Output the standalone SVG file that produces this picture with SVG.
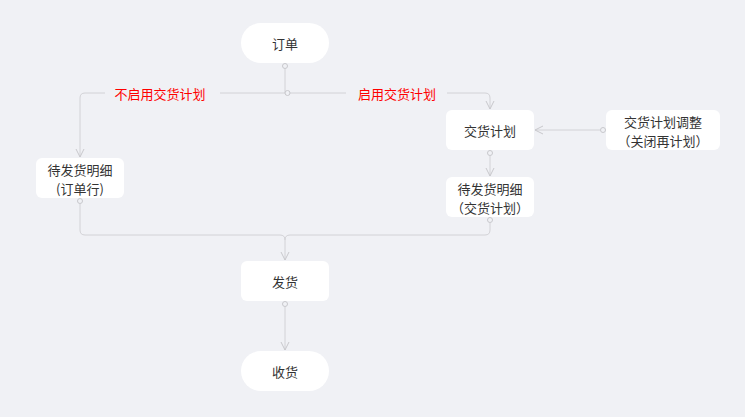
<svg xmlns="http://www.w3.org/2000/svg" width="745" height="417" viewBox="0 0 745 417">
<style>
.node rect{fill:#ffffff}
.t{font-family:"Noto Sans CJK SC","Noto Sans",sans-serif;font-size:13px;fill:#333333;text-anchor:middle;dominant-baseline:central}
.lbl{font-family:"Noto Sans CJK SC","Noto Sans",sans-serif;font-size:13px;fill:#ff0000;text-anchor:middle;dominant-baseline:central}
.edge{fill:none;stroke:#d2d2d6;stroke-width:1}
.port{fill:#f0f1f5;stroke:#c8c8cc;stroke-width:1}
</style>
<defs>
<marker id="arr" viewBox="0 0 10 10" refX="9" refY="5" markerWidth="10" markerHeight="10" markerUnits="userSpaceOnUse" orient="auto">
<path d="M1,1 L9,5 L1,9" fill="none" stroke="#c8c8cc" stroke-width="1"/>
</marker>
</defs>
<rect width="745" height="417" fill="#f0f1f5"/>
<g id="connectors">
<path class="edge" d="M285,69 V93"/>
<path class="edge" d="M285,93 H85 Q80,93 80,98 V157" marker-end="url(#arr)"/>
<path class="edge" d="M285,93 H485 Q490,93 490,98 V109" marker-end="url(#arr)"/>
<path class="edge" d="M600,130 H535" marker-end="url(#arr)"/>
<path class="edge" d="M490,156 V176" marker-end="url(#arr)"/>
<path class="edge" d="M80,204 V230 Q80,235 85,235 H280 Q285,235 285,240 V260" marker-end="url(#arr)"/>
<path class="edge" d="M490,223 V230 Q490,235 485,235 H290 Q285,235 285,240"/>
<path class="edge" d="M285,307 V350" marker-end="url(#arr)"/>
<circle class="port" cx="285" cy="66" r="2.5"/>
<circle class="port" cx="287.5" cy="93" r="2.5"/>
<circle class="port" cx="603" cy="130" r="2.5"/>
<circle class="port" cx="490" cy="153" r="2.5"/>
<circle class="port" cx="80" cy="201" r="2.5"/>
<circle class="port" cx="490" cy="220" r="2.5"/>
<circle class="port" cx="285" cy="304" r="2.5"/>
<rect x="105" y="84" width="115" height="18" fill="#f0f1f5"/>
<text class="lbl" x="160" y="93">不启用交货计划</text>
<rect x="346" y="84" width="101" height="18" fill="#f0f1f5"/>
<text class="lbl" x="397" y="93">启用交货计划</text>
</g>
<g id="node-order" class="node">
<rect x="241" y="23" width="88" height="40" rx="20"/>
<text class="t" x="285" y="43">订单</text>
</g>
<g id="node-plan" class="node">
<rect x="446" y="110" width="88" height="40" rx="6"/>
<text class="t" x="490" y="130">交货计划</text>
</g>
<g id="node-adjust" class="node">
<rect x="606" y="110" width="114" height="40" rx="6"/>
<text class="t" x="663" y="121">交货计划调整</text>
<text class="t" x="663" y="140">（关闭再计划）</text>
</g>
<g id="node-pending-line" class="node">
<rect x="36" y="158" width="88" height="40" rx="6"/>
<text class="t" x="80" y="169">待发货明细</text>
<text class="t" x="80" y="188">(订单行)</text>
</g>
<g id="node-pending-plan" class="node">
<rect x="446" y="177" width="88" height="40" rx="6"/>
<text class="t" x="490" y="188">待发货明细</text>
<text class="t" x="490" y="207">（交货计划）</text>
</g>
<g id="node-ship" class="node">
<rect x="241" y="261" width="88" height="40" rx="6"/>
<text class="t" x="285" y="281">发货</text>
</g>
<g id="node-receive" class="node">
<rect x="241" y="351" width="88" height="40" rx="20"/>
<text class="t" x="285" y="371">收货</text>
</g>
</svg>
